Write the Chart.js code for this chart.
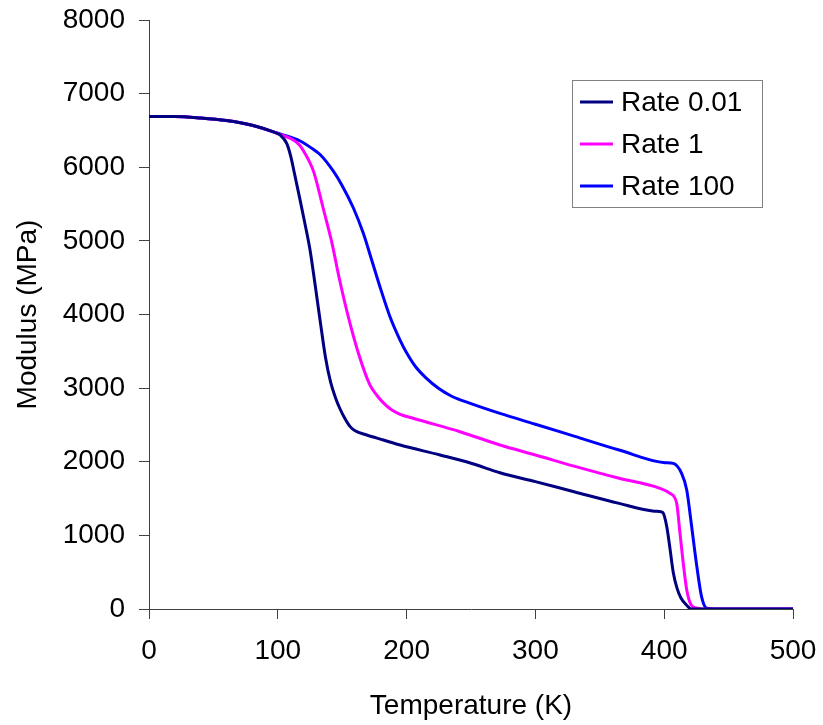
<!DOCTYPE html>
<html>
<head>
<meta charset="utf-8">
<script src="https://cdn.jsdelivr.net/npm/chart.js@4.4.1/dist/chart.umd.min.js"></script>
<style>
  html, body { margin: 0; padding: 0; background: #fff; }
  #wrap { width: 823px; height: 725px; }
</style>
</head>
<body>
<div id="wrap"><canvas id="modulusChart" width="823" height="725"></canvas></div>
<script>
const labels = ['Rate 0.01', 'Rate 1', 'Rate 100'];
const colors = ['#000080', '#ff00ff', '#0000ff'];

const tempSlow = [0, 20, 40, 60, 80, 96, 102, 107, 110, 113, 117, 121, 125, 129, 133, 137, 141, 145, 148, 152, 156, 160, 169, 182, 195, 226, 250, 272.5, 300, 330, 365, 391, 396, 399, 402, 404.5, 407, 410, 413, 417.5, 421, 430, 500];
const modSlow = [6690, 6690, 6670, 6635, 6570, 6483, 6435, 6320, 6150, 5910, 5580, 5240, 4880, 4400, 3900, 3420, 3080, 2860, 2730, 2590, 2480, 2420, 2363, 2295, 2227, 2092, 1980, 1851, 1730, 1593, 1435, 1331, 1325, 1310, 1118, 820, 500, 280, 150, 50, 0, 0, 0];

const tempMid = [0, 20, 40, 60, 80, 96, 104, 110, 117, 122, 125, 128, 131.4, 135, 141.8, 148, 155, 163, 171.6, 177, 182, 188, 195, 205, 241.5, 272.5, 300, 330, 365, 396.7, 404.5, 409.7, 412, 414.8, 417.5, 421, 425, 430, 500];
const modMid = [6690, 6690, 6670, 6635, 6570, 6483, 6430, 6390, 6300, 6160, 6060, 5930, 5714, 5460, 4990, 4468, 3950, 3450, 3040, 2900, 2800, 2710, 2645, 2590, 2408, 2227, 2092, 1940, 1775, 1639, 1571, 1435, 1073, 620, 258, 54, 15, 0, 0];

const tempFast = [0, 20, 40, 60, 80, 96, 104, 117, 127, 133, 143, 150, 158.6, 166.4, 172.9, 179.3, 187.1, 194.9, 200, 207, 215, 225, 235, 250, 272.5, 300, 330, 365, 400.6, 407, 413.5, 417.5, 421, 425, 429, 433, 440, 500];
const modFast = [6690, 6690, 6670, 6635, 6570, 6483, 6440, 6360, 6250, 6170, 5950, 5750, 5450, 5103, 4740, 4378, 3970, 3653, 3480, 3290, 3140, 2995, 2890, 2790, 2657, 2510, 2348, 2159, 1987, 1978, 1843, 1616, 1164, 620, 167, 10, 0, 0];

const xTicks = [0, 100, 200, 300, 400, 500];
const yTicks = [0, 1000, 2000, 3000, 4000, 5000, 6000, 7000, 8000];

const toPoints = (xs, ys) => xs.map((x, i) => ({ x, y: ys[i] }));
const series = [toPoints(tempSlow, modSlow), toPoints(tempMid, modMid), toPoints(tempFast, modFast)];

const fontFamily = '"Liberation Sans", Arial, sans-serif';

// keep the plot box where the reference has it
const noScalePadding = (scale) => {
  scale.paddingTop = 0;
  scale.paddingBottom = 0;
  scale.paddingLeft = 0;
  scale.paddingRight = 0;
};

// boxed legend inside the plot, upper right
const boxLegend = {
  id: 'boxLegend',
  afterDraw(chart) {
    const { ctx, chartArea } = chart;
    const right = chartArea.right - 31;
    const left = right - 190;
    const top = chartArea.top + 60;
    const rowH = 42;
    ctx.save();
    ctx.fillStyle = '#fff';
    ctx.fillRect(left, top, right - left, 127);
    ctx.strokeStyle = '#808080';
    ctx.lineWidth = 1;
    ctx.strokeRect(left + 0.5, top + 0.5, right - left, 127);
    ctx.font = '28px ' + fontFamily;
    ctx.textBaseline = 'middle';
    chart.data.datasets.forEach((ds, i) => {
      const y = top + 22 + i * rowH;
      ctx.strokeStyle = ds.borderColor;
      ctx.lineWidth = 3;
      ctx.beginPath();
      ctx.moveTo(left + 8, y);
      ctx.lineTo(left + 41, y);
      ctx.stroke();
      ctx.fillStyle = '#000';
      ctx.fillText(ds.label, left + 49, y + 1);
    });
    ctx.restore();
  },
};

new Chart(document.querySelector('#modulusChart'), {
  type: 'line',
  data: {
    datasets: series.map((pts, i) => ({
      label: labels[i],
      data: pts,
      borderColor: colors[i],
      backgroundColor: colors[i],
      borderWidth: 3,
      pointRadius: 0,
      cubicInterpolationMode: 'monotone',
      fill: false,
    })),
  },
  options: {
    responsive: false,
    animation: false,
    layout: { padding: { top: 20, right: 30, left: 0, bottom: 0 } },
    plugins: { legend: { display: false }, tooltip: { enabled: false } },
    scales: {
      x: {
        type: 'linear',
        min: 0,
        max: 500,
        afterBuildTicks: (scale) => { scale.ticks = xTicks.map((v) => ({ value: v })); },
        afterFit: (scale) => { scale.height = 116; noScalePadding(scale); },
        grid: { drawOnChartArea: false, tickLength: 10, color: '#404040' },
        border: { color: '#404040', width: 1 },
        ticks: { color: '#000', font: { family: fontFamily, size: 28 }, padding: 15, maxRotation: 0, callback: (v) => String(v) },
        title: { display: true, text: 'Temperature (K)', color: '#000', font: { family: fontFamily, size: 28 }, padding: { top: 0, bottom: 2 } },
      },
      y: {
        type: 'linear',
        min: 0,
        max: 8000,
        afterBuildTicks: (scale) => { scale.ticks = yTicks.map((v) => ({ value: v })); },
        afterFit: (scale) => { scale.width = 149; noScalePadding(scale); },
        grid: { drawOnChartArea: false, tickLength: 10, color: '#404040' },
        border: { color: '#404040', width: 1 },
        ticks: { color: '#000', font: { family: fontFamily, size: 28 }, padding: 14, callback: (v) => String(v) },
        title: { display: true, text: 'Modulus (MPa)', color: '#000', font: { family: fontFamily, size: 28 }, padding: { top: 11, bottom: 0 } },
      },
    },
  },
  plugins: [boxLegend],
});
</script>
</body>
</html>
